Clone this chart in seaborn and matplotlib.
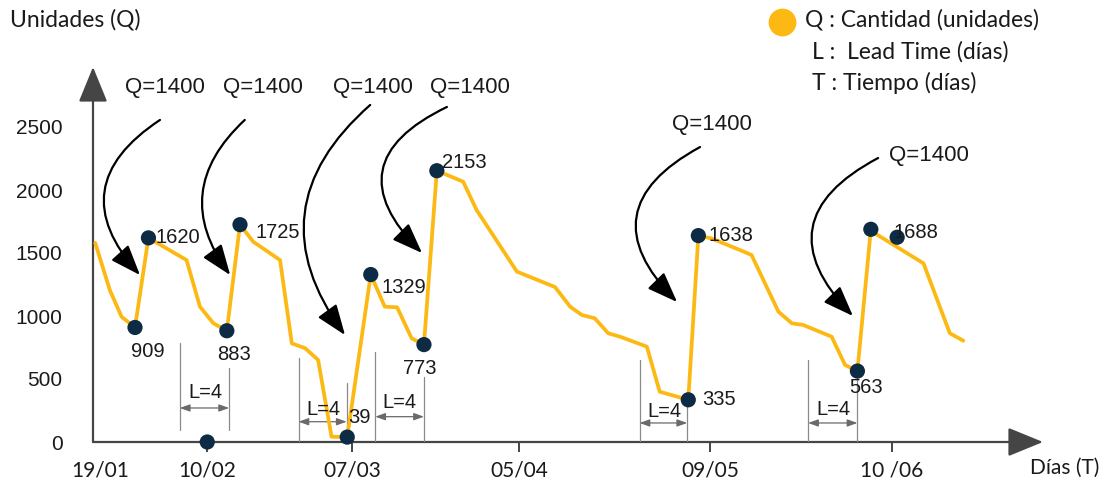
import matplotlib
matplotlib.use("Agg")
import matplotlib.pyplot as plt
import seaborn as sns
import pandas as pd

# Inventory level (units) over time (days from 19/01)
dia = [0.4, 3.0, 5.1, 7.5, 9.9, 16.7, 19.1, 21.5, 23.9, 26.25, 28.6, 33.4,
       35.5, 37.9, 40.2, 42.6, 45.4, 49.6, 52.1, 54.3, 56.9, 59.1, 61.4,
       66.1, 68.5, 75.7, 82.5, 85.2, 87.3, 89.6, 92.0, 94.1, 98.9, 101.2,
       106.3, 108.1, 110.5, 115.5, 117.6, 122.4, 124.8, 126.8, 131.9,
       134.3, 136.5, 138.9, 140.1, 148.3, 153.0, 155.4]
unidades = [1580, 1206, 994, 909, 1620, 1444, 1074, 942, 883, 1725, 1590,
            1444, 783, 744, 651, 42, 39, 1329, 1074, 1069, 823, 773, 2153,
            2066, 1841, 1352, 1230, 1074, 1008, 982, 863, 836, 757, 399,
            335, 1638, 1615, 1524, 1484, 1034, 942, 929, 836, 611, 563,
            1688, 1643, 1418, 863, 804]

# Highlighted points (reorder / arrival points)
punto_dia = [7.5, 9.9, 23.9, 26.25, 45.4, 49.6, 59.1, 61.4, 106.3, 108.1,
             136.5, 138.9, 143.6, 20.4]
punto_q = [909, 1620, 883, 1725, 39, 1329, 773, 2153, 335, 1638, 563, 1688,
           1625, 0]
# Which highlighted points carry a value label
etiquetado = [True] * 12 + [False, False]

# Date ticks
tick_pos = [20.4, 46.3, 76.1, 110.2, 142.7]
tick_lab = ["10/02", "07/03", "05/04", "09/05", "10 /06"]
tick0_pos = [1.25]
tick0_lab = ["19/01"]
y_ticks = [0, 500, 1000, 1500, 2000, 2500]

pedido = 1400

NARANJA = "#FDB913"
AZUL = "#0E2B45"
GRIS = "#454545"
NUM_FONT = "Liberation Sans"
TXT_FONT = "Lato"

sns.set_theme(style="white")
plt.rcParams["font.family"] = [NUM_FONT, "DejaVu Sans"]

fig = plt.figure(figsize=(11.07, 4.87), dpi=100)
ax = fig.add_axes([93 / 1107, 45 / 487, 950 / 1107, 375 / 487])
ax.set_xlim(0, 950 / 5.6)
ax.set_ylim(0, 375 / 0.126)

linea = pd.DataFrame({"dia": dia, "q": unidades})
sns.lineplot(data=linea, x="dia", y="q", ax=ax, color=NARANJA, lw=2.7,
             sort=False, zorder=3)
puntos = pd.DataFrame({"dia": punto_dia, "q": punto_q})
sns.scatterplot(data=puntos, x="dia", y="q", ax=ax, color=AZUL, s=120,
                edgecolor="none", zorder=5, clip_on=False)

# Value labels next to the highlighted points: (dx, dy) in points, alignment
desplaz = [(9, -17, "center"), (5, 0, "left"), (5, -17, "center"),
           (11, -6, "left"), (1, 14, "left"), (8, -9, "left"),
           (-3, -17, "center"), (4, 6, "left"), (10, 0, "left"),
           (7, 0, "left"), (6, -12, "center"), (16, -2, "left")]
for i, (d, q) in enumerate(zip(punto_dia, punto_q)):
    if not etiquetado[i]:
        continue
    dx, dy, ha = desplaz[i]
    ax.annotate(f"{q}", (d, q), xytext=(dx, dy), textcoords="offset points",
                ha=ha, va="center", fontsize=14.5, color="#1a1a1a",
                family=NUM_FONT, zorder=6)

# Curved arrows for each order of Q units
flechas = [((11.96, 2556), (8.39, 1325), 0.58),
           ((27.1, 2556), (24.5, 1325), 0.445),
           ((49.5, 2675), (45.0, 849), 0.457),
           ((63.2, 2659), (58.75, 1500), 0.705),
           ((108.4, 2341), (104.3, 1111), 0.665),
           ((140.2, 2254), (135.7, 1000), 0.665)]
etiq_q = [(12.9, 2817), (30.4, 2817), (50.0, 2817), (67.3, 2817),
          (110.5, 2516), (149.3, 2270)]
for (p0, p1, rad), pos in zip(flechas, etiq_q):
    ax.annotate("", xy=p1, xytext=p0,
                arrowprops=dict(arrowstyle="-|>,head_length=0.85,head_width=0.32",
                                connectionstyle=f"arc3,rad={rad}",
                                color="black", lw=1.6, mutation_scale=22,
                                shrinkA=0, shrinkB=0), zorder=4)
    ax.text(pos[0], pos[1], f"Q={pedido}", ha="center", va="center",
            fontsize=16, color="#1a1a1a", family=NUM_FONT)

# Lead time brackets: (left, right, left top, right top, base, arrow y, text x, text y)
plazos = [(15.5, 24.3, 786, 587, 95, 270, 20.0, 389),
          (36.7, 45.3, 667, 468, 0, 161, 41.2, 254),
          (50.4, 59.1, 717, 518, 0, 201, 54.8, 310),
          (97.6, 106.1, 651, 302, 0, 151, 102.1, 240),
          (127.7, 136.5, 651, 518, 0, 151, 132.3, 254)]
for x0, x1, t0, t1, base, ya, tx, ty in plazos:
    ax.plot([x0, x0], [base, t0], color="#8a8a8a", lw=0.9, zorder=2)
    ax.plot([x1, x1], [base, t1], color="#8a8a8a", lw=0.9, zorder=2)
    ax.annotate("", xy=(x1, ya), xytext=(x0, ya),
                arrowprops=dict(arrowstyle="<|-|>,head_length=0.5,head_width=0.18",
                                color="#6a6a6a", lw=0.9, mutation_scale=12,
                                shrinkA=0, shrinkB=0), zorder=2)
    ax.text(tx, ty, "L=4", ha="center", va="center", fontsize=14.5,
            color="#1a1a1a", family=NUM_FONT)

# Axes drawn as arrows
for s in ax.spines.values():
    s.set_visible(False)
ax.annotate("", xy=(1, 0), xytext=(0, 0), xycoords="axes fraction",
            arrowprops=dict(arrowstyle="-|>,head_length=1.1,head_width=0.45",
                            color=GRIS, lw=1.6, mutation_scale=20,
                            shrinkA=0, shrinkB=0), zorder=1)
ax.annotate("", xy=(0, 1), xytext=(0, 0), xycoords="axes fraction",
            arrowprops=dict(arrowstyle="-|>,head_length=1.1,head_width=0.45",
                            color=GRIS, lw=1.6, mutation_scale=20,
                            shrinkA=0, shrinkB=0), zorder=1)

ax.set_yticks(y_ticks)
ax.set_yticklabels([str(v) for v in y_ticks], family=NUM_FONT, fontsize=15,
                   color="#1a1a1a")
ax.tick_params(axis="y", length=0, pad=22)
ax.set_xticks(tick_pos)
ax.set_xticklabels(tick_lab, family=TXT_FONT, fontsize=15, color="#1a1a1a")
ax.set_xticks(tick0_pos, minor=True)
ax.set_xticklabels(tick0_lab, minor=True, family=TXT_FONT, fontsize=15,
                   color="#1a1a1a")
ax.tick_params(axis="x", which="major", length=7, width=1.4, color=GRIS,
               direction="out", pad=6, bottom=True)
ax.tick_params(axis="x", which="minor", length=7, width=0, pad=6, bottom=True)
ax.set_xlabel("")
ax.set_ylabel("")
ax.grid(False)

# Headers and key
fig.text(10 / 1107, 1 - 20 / 487, "Unidades (Q)", ha="left", va="center",
         fontsize=16.5, family=TXT_FONT, color="#1a1a1a")
fig.text(1030 / 1107, 1 - 468 / 487, "Días (T)", ha="left", va="center",
         fontsize=15, family=TXT_FONT, color="#1a1a1a")
fig.lines.append(plt.Line2D([782 / 1107], [1 - 22 / 487], marker="o",
                            markersize=19, color=NARANJA, ls="none",
                            transform=fig.transFigure))
fig.text(805 / 1107, 1 - 20 / 487, "Q : Cantidad (unidades)", ha="left",
         va="center", fontsize=16.5, family=TXT_FONT, color="#1a1a1a")
fig.text(812 / 1107, 1 - 52 / 487, "L :  Lead Time (días)", ha="left",
         va="center", fontsize=16.5, family=TXT_FONT, color="#1a1a1a")
fig.text(812 / 1107, 1 - 83 / 487, "T : Tiempo (días)", ha="left",
         va="center", fontsize=16.5, family=TXT_FONT, color="#1a1a1a")

fig.savefig("out.png", dpi=100)
